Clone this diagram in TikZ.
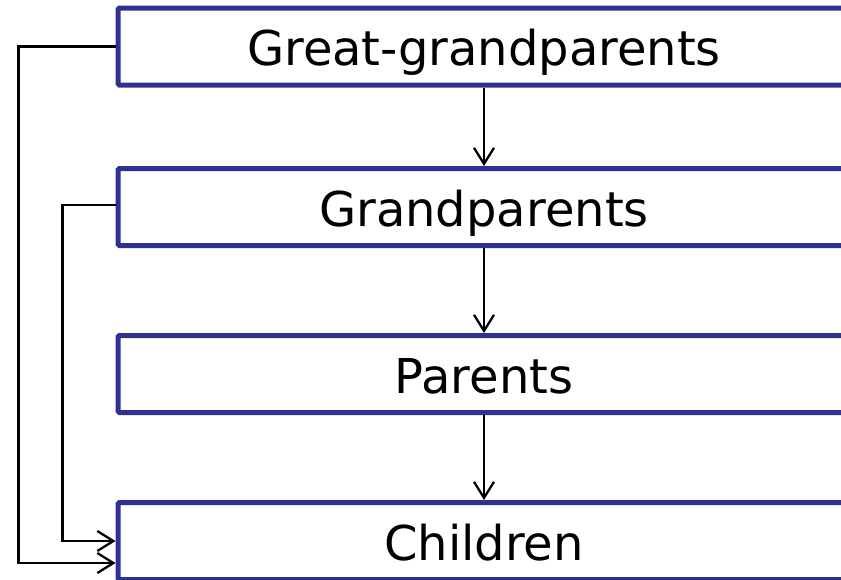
\documentclass[tikz,border=0pt]{standalone}
\usepackage{fontspec}
\setmainfont{DejaVu Sans}
\usetikzlibrary{arrows.meta}
\definecolor{navy}{RGB}{46,49,146}
\begin{document}
\begin{tikzpicture}[x=1pt,y=-1pt,
  gbox/.style={draw=navy, line width=5pt, minimum width=732pt, minimum height=77pt,
    inner sep=0pt, text height=38pt, text depth=0pt,
    font=\fontsize{48}{56}\selectfont, rounded corners=1.5pt},
  conn/.style={line width=2.3pt, -{Straight Barb[length=16pt,width=20pt]}}]
\useasboundingbox (0,0) rectangle (841,579);
\clip (0,0) rectangle (841,579);
\node[gbox] (g1) at (484,46.5) {Great-grandparents};
\node[gbox] (g2) at (484,207) {Grandparents};
\node[gbox] (g3) at (484,374) {Parents};
\node[gbox] (g4) at (484,541) {Children};
\draw[conn] (g1.south) -- (g2.north);
\draw[conn] (g2.south) -- (g3.north);
\draw[conn] (g3.south) -- (g4.north);
\draw[conn] (g1.west) -- ++(-97,0) |- ([yshift=-22pt]g4.west);
\draw[conn] ([yshift=2pt]g2.west) -- ++(-53,0) |- (g4.west);
\end{tikzpicture}
\end{document}
